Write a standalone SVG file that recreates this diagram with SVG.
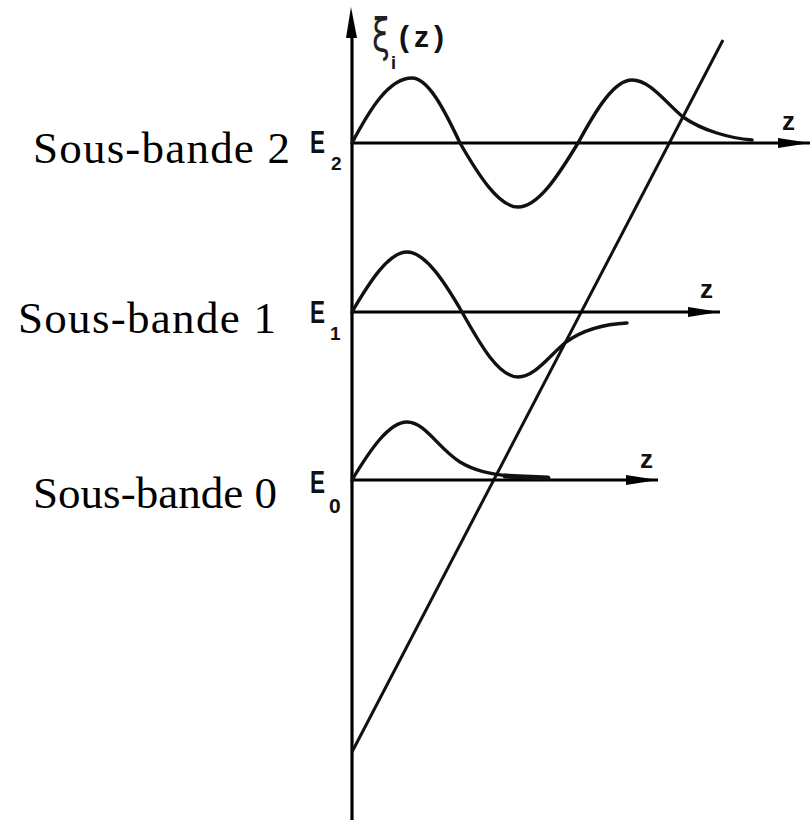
<svg xmlns="http://www.w3.org/2000/svg" width="812" height="820" viewBox="0 0 812 820">
<style>
.ax{stroke:#000;stroke-width:3.2;fill:none}
.cv{stroke:#111;stroke-width:3.4;fill:none;stroke-linecap:round;stroke-linejoin:round}
.ln{stroke:#111;stroke-width:3;fill:none}
.lab{font-family:"Liberation Serif","Times New Roman",serif;font-size:45px;fill:#000}
.en{font-family:"Liberation Sans",Arial,sans-serif;font-weight:bold;fill:#111}
</style>
<defs>
<marker id="arr" markerUnits="userSpaceOnUse" markerWidth="34" markerHeight="12" refX="32" refY="6" orient="auto">
<path d="M0,1 L32,6 L0,11 z" fill="#000"/>
</marker>
</defs>
<rect width="812" height="820" fill="#fff"/>
<g id="axes">
<line class="ax" x1="352" y1="820" x2="352" y2="30"/>
<polygon points="351,7 357,38 346,38" fill="#000"/>
</g>
<g id="potential">
<line class="ln" x1="352" y1="752" x2="723" y2="40"/>
</g>
<g id="subband2">
<line class="ax" x1="352" y1="143" x2="810" y2="143" marker-end="url(#arr)"/>
<path class="cv" d="M352,143 C370,109 389,78 412,78 C428,78 444,109 460,143 C479,176 499,207 518,207 C538,207 558,176 578,143 C596,110 614,80 632,80 C650,80 665,102 683,117 C703,131 730,138 752,140"/>
<text class="en" x="310" y="153" font-size="32" textLength="15" lengthAdjust="spacingAndGlyphs">E</text>
<text class="en" x="331" y="170" font-size="19">2</text>
<text class="en" x="782" y="130" font-size="26">z</text>
<text class="lab" x="33" y="163" textLength="257" lengthAdjust="spacing">Sous-bande 2</text>
</g>
<g id="subband1">
<line class="ax" x1="352" y1="312" x2="720" y2="312" marker-end="url(#arr)"/>
<path class="cv" d="M352,312 C370,281 389,252 407,252 C425,252 444,281 462,312 C481,346 499,377 518,377 C535,377 550,355 566,342 C583,330 605,324 627,323"/>
<text class="en" x="310" y="323" font-size="32" textLength="15" lengthAdjust="spacingAndGlyphs">E</text>
<text class="en" x="330" y="340" font-size="19">1</text>
<text class="en" x="700" y="298" font-size="26">z</text>
<text class="lab" x="18" y="333" textLength="258" lengthAdjust="spacing">Sous-bande 1</text>
</g>
<g id="subband0">
<line class="ax" x1="352" y1="480" x2="658" y2="480" marker-end="url(#arr)"/>
<path class="cv" d="M352,480 C370,450 389,422 407,422 C425,422 438,448 460,462 C475,471 490,474 510,476"/>
<line x1="505" y1="476" x2="548" y2="478" stroke="#111" stroke-width="5" stroke-linecap="round"/>
<text class="en" x="310" y="493" font-size="32" textLength="15" lengthAdjust="spacingAndGlyphs">E</text>
<text class="en" x="329" y="513" font-size="21">0</text>
<text class="en" x="640" y="468" font-size="26">z</text>
<text class="lab" x="33" y="508" textLength="244" lengthAdjust="spacing">Sous-bande 0</text>
</g>
<g id="ylabel">
<text transform="translate(372,51) scale(0.7,1)" x="0" y="0" font-family="DejaVu Sans, sans-serif" font-size="46" fill="#222">ξ</text>
<text class="en" fill="#222"><tspan x="391" y="69" font-size="18">i</tspan><tspan x="399" y="47" font-size="30" textLength="45" lengthAdjust="spacing">(z)</tspan></text>
</g>
</svg>
